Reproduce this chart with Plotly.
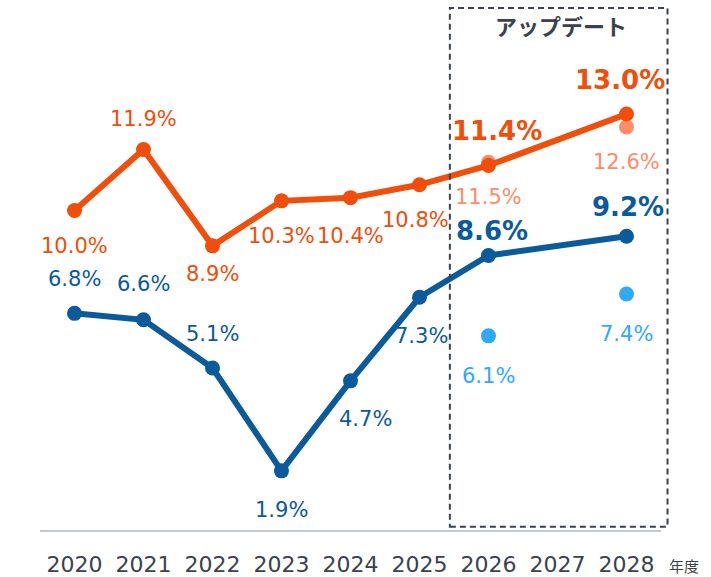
import plotly.graph_objects as go

years = ["2020", "2021", "2022", "2023", "2024", "2025", "2026", "2027", "2028"]

orange_x = ["2020", "2021", "2022", "2023", "2024", "2025", "2026", "2028"]
orange_y = [10.0, 11.9, 8.9, 10.3, 10.4, 10.8, 11.4, 13.0]

blue_x = ["2020", "2021", "2022", "2023", "2024", "2025", "2026", "2028"]
blue_y = [6.8, 6.6, 5.1, 1.9, 4.7, 7.3, 8.6, 9.2]

light_orange_x = ["2026", "2028"]
light_orange_y = [11.5, 12.6]

light_blue_x = ["2026", "2028"]
light_blue_y = [6.1, 7.4]

box_title = "アップデート"
unit_label = "年度"

# styles
ORANGE = "#F04E0A"
LIGHT_ORANGE = "#FF8C66"
BLUE = "#0A5A9C"
LIGHT_BLUE = "#30A8FF"
DARK = "#3B424C"
LABEL_FONT = "DejaVu Sans, Verdana, sans-serif"
TICK_FONT = "DejaVu Sans, Verdana, sans-serif"

# label offsets (xshift, yshift) in pixels per point
orange_off = [(0, -35), (0, 30), (0, -28), (0, -35), (0, -38), (-4, -35), (8, 35), (-7, 34)]
blue_off = [(0, 34), (0, 36), (0, 34), (0, -39), (15, -38), (2, -39), (3, 25), (1, 29)]
light_orange_off = [(0, -35), (0, -35)]
light_blue_off = [(0, -40), (0, -40)]
bold_last = 2  # last two labels of the main series are bold & larger

fig = go.Figure()

fig.add_trace(go.Scatter(x=light_orange_x, y=light_orange_y, mode="markers",
                         marker=dict(color=LIGHT_ORANGE, size=15), hoverinfo="skip"))
fig.add_trace(go.Scatter(x=light_blue_x, y=light_blue_y, mode="markers",
                         marker=dict(color=LIGHT_BLUE, size=15), hoverinfo="skip"))
fig.add_trace(go.Scatter(x=orange_x, y=orange_y, mode="lines+markers",
                         line=dict(color=ORANGE, width=6),
                         marker=dict(color=ORANGE, size=15)))
fig.add_trace(go.Scatter(x=blue_x, y=blue_y, mode="lines+markers",
                         line=dict(color=BLUE, width=6),
                         marker=dict(color=BLUE, size=15)))

annotations = []


def add_labels(xs, ys, offs, color, bold_n=0):
    n = len(xs)
    for i, (x, y, (dx, dy)) in enumerate(zip(xs, ys, offs)):
        bold = i >= n - bold_n
        txt = f"{y:.1f}%"
        if bold:
            txt = f"<b>{txt}</b>"
        annotations.append(dict(
            x=years.index(x), y=y, xref="x", yref="y", text=txt, showarrow=False,
            xshift=dx, yshift=dy,
            font=dict(family=LABEL_FONT, size=26 if bold else 21, color=color),
        ))


add_labels(orange_x, orange_y, orange_off, ORANGE, bold_last)
add_labels(blue_x, blue_y, blue_off, BLUE, bold_last)
add_labels(light_orange_x, light_orange_y, light_orange_off, LIGHT_ORANGE)
add_labels(light_blue_x, light_blue_y, light_blue_off, LIGHT_BLUE)

annotations.append(dict(
    x=7, y=1, xref="x", yref="paper", yanchor="top", yshift=1, xshift=3,
    text=f"<b>{box_title}</b>", showarrow=False,
    font=dict(family="Noto Sans CJK JP, sans-serif", size=22, color=DARK),
))
annotations.append(dict(
    x=1, y=0, xref="paper", yref="paper", xanchor="left", yanchor="middle",
    xshift=6, yshift=-35,
    text=unit_label, showarrow=False,
    font=dict(family="Noto Sans CJK JP, sans-serif", size=15, color=DARK),
))

fig.add_shape(type="rect", xref="paper", yref="paper", x0=0.66, x1=1.0105, y0=0.006, y1=1,
              line=dict(color=DARK, width=2, dash="6px,4px"), fillcolor="rgba(0,0,0,0)",
              layer="above")

fig.update_layout(
    width=711, height=577,
    margin=dict(l=40, r=50, t=8, b=47),
    paper_bgcolor="white", plot_bgcolor="white",
    showlegend=False,
    annotations=annotations,
    xaxis=dict(type="category", categoryorder="array", categoryarray=years,
               range=[-0.5, 8.5], showgrid=False, zeroline=False,
               showline=True, linecolor="#C3CACE", linewidth=2,
               ticks="", ticklabelstandoff=14, automargin=False,
               tickfont=dict(family=TICK_FONT, size=22, color=DARK)),
    yaxis=dict(range=[0.06, 16.3], visible=False, showgrid=False, zeroline=False,
               automargin=False),
)

fig.write_html("out.html", config={"displayModeBar": False},
               post_script="document.body.style.margin='0';")
